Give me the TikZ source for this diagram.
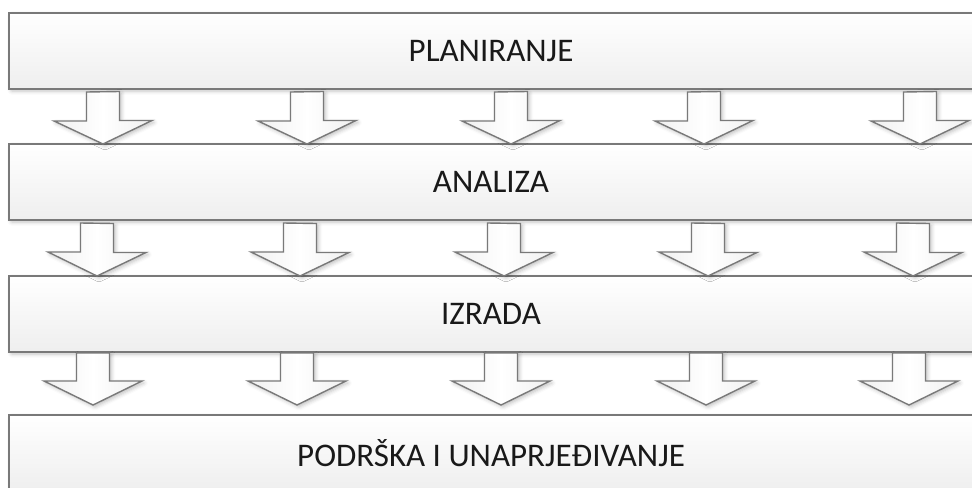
\documentclass[tikz,border=0pt]{standalone}
\usepackage{fontspec}
\setmainfont{Carlito}
\usetikzlibrary{shadows.blur}

\tikzset{
  faza/.style={rectangle, draw=gray!95!black, line width=0.75pt, top color=white, bottom color=gray!13,
    minimum width=482pt, minimum height=38pt, inner sep=0pt, outer sep=0pt,
    font=\fontsize{16.5pt}{20pt}\selectfont, text=black!90,
    blur shadow={shadow xshift=1pt, shadow yshift=-1pt, shadow blur steps=4, shadow opacity=25, shadow blur extra rounding=0.5pt}},
  strelica/.style={draw=gray!95!black, line width=0.7pt, left color=gray!12, right color=gray!12, middle color=white,
    blur shadow={shadow xshift=1pt, shadow yshift=-1pt, shadow blur steps=4, shadow opacity=25}}
}

\begin{document}
\begin{tikzpicture}[x=0.5pt,y=-0.5pt]
\useasboundingbox (0,0) rectangle (972,487);

\node[faza] (plan) at (491,51) {PLANIRANJE};
\node[faza] (anal) at (491,182) {ANALIZA};
\node[faza] (izr) at (491,314) {IZRADA};
\node[faza] (podr) at (491,453) {PODRŠKA I UNAPRJEĐIVANJE};

\foreach \x in {103,307,511,704,920}
  \draw[strelica] ([yshift=-1.5pt]plan.south -| \x,0) ++(-16.5,0) -- ++(0,29) -- ++(-32.5,0) -- (anal.north -| \x,0) -- ++(49,-23.5) -- ++(-32.5,0) -- ++(0,-29) -- cycle;
\foreach \x in {97,300,504,708,913}
  \draw[strelica] ([yshift=-1.5pt]anal.south -| \x,0) ++(-16.5,0) -- ++(0,29) -- ++(-32.5,0) -- (izr.north -| \x,0) -- ++(49,-23.5) -- ++(-32.5,0) -- ++(0,-29) -- cycle;
\foreach \x in {93,297,501,706,909}
  \draw[strelica] ([yshift=-0.5pt]izr.south -| \x,0) ++(-16.5,0) -- ++(0,28) -- ++(-32.5,0) -- ++(49,24) -- ++(49,-24) -- ++(-32.5,0) -- ++(0,-28) -- cycle;

\end{tikzpicture}
\end{document}
